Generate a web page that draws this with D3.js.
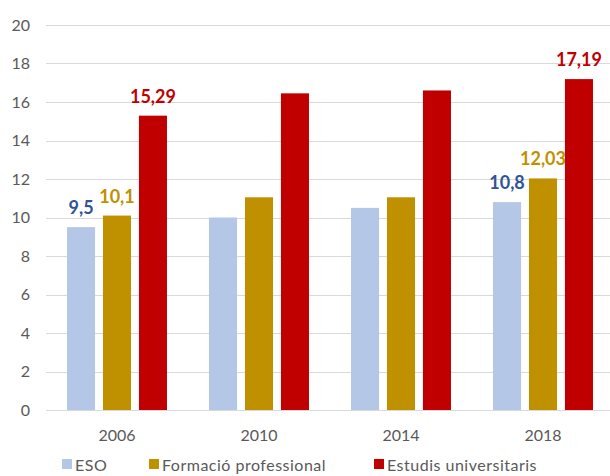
<!DOCTYPE html>
<html>
<head>
<meta charset="utf-8">
<script src="https://cdn.jsdelivr.net/npm/d3@7"></script>
<style>
  body { margin: 0; background: #fff; }
  text { font-family: Lato, "Open Sans", sans-serif; }
</style>
</head>
<body>
<svg width="610" height="476"></svg>
<script>
var years = ['2006', '2010', '2014', '2018'];
var series = ['ESO', 'Formació professional', 'Estudis universitaris'];
var eso = [9.5, 10.0, 10.5, 10.8];
var fp = [10.1, 11.05, 11.05, 12.03];
var univ = [15.29, 16.45, 16.6, 17.19];
var yTicks = [0, 2, 4, 6, 8, 10, 12, 14, 16, 18, 20];
// which bars carry a value label
var labelled = {
  'ESO': ['9,5', null, null, '10,8'],
  'Formació professional': ['10,1', null, null, '12,03'],
  'Estudis universitaris': ['15,29', null, null, '17,19']
};

var barColors = ['#B4C7E7', '#BF9000', '#C00000'];
var labelColors = ['#2F5597', '#C09000', '#C00000'];

var svg = d3.select('svg');
var values = [eso, fp, univ];

var x = d3.scaleBand()
  .domain(years)
  .range([46, 614])
  .paddingInner(0.296)
  .paddingOuter(0.148);

var x1 = d3.scaleBand()
  .domain(series)
  .range([0, x.bandwidth()])
  .paddingInner(0.22);

var y = d3.scaleLinear()
  .domain([0, 20])
  .range([410, 25]);

// gridlines
svg.append('g')
  .selectAll('line')
  .data(yTicks)
  .enter()
  .append('line')
  .attr('x1', 46)
  .attr('x2', 610)
  .attr('y1', function(d) { return Math.round(y(d)) + 0.5; })
  .attr('y2', function(d) { return Math.round(y(d)) + 0.5; })
  .attr('stroke', '#D9D9D9')
  .attr('stroke-width', 1);

// y tick labels
svg.append('g')
  .selectAll('text')
  .data(yTicks)
  .enter()
  .append('text')
  .attr('x', 30)
  .attr('y', function(d) { return y(d); })
  .attr('dy', '0.35em')
  .attr('text-anchor', 'end')
  .attr('fill', '#595959')
  .style('font-size', '16px')
  .text(function(d) { return d; });

// bars + value labels
series.forEach(function(s, i) {
  var rows = values[i].map(function(v, j) {
    return { year: years[j], value: v, label: labelled[s][j] };
  });
  var g = svg.append('g');

  g.selectAll('rect')
    .data(rows)
    .enter()
    .append('rect')
    .attr('x', function(d) { return x(d.year) + x1(s); })
    .attr('y', function(d) { return y(d.value); })
    .attr('width', x1.bandwidth())
    .attr('height', function(d) { return y(0) - y(d.value); })
    .attr('fill', barColors[i]);

  g.selectAll('text')
    .data(rows.filter(function(d) { return d.label !== null; }))
    .enter()
    .append('text')
    .attr('x', function(d) { return x(d.year) + x1(s) + x1.bandwidth() / 2; })
    .attr('y', function(d) { return y(d.value) - 13; })
    .attr('text-anchor', 'middle')
    .attr('fill', labelColors[i])
    .style('font-size', '18px')
    .style('font-weight', 'bold')
    .text(function(d) { return d.label; });
});

// x labels
svg.append('g')
  .selectAll('text')
  .data(years)
  .enter()
  .append('text')
  .attr('x', function(d) { return x(d) + x.bandwidth() / 2; })
  .attr('y', 441)
  .attr('text-anchor', 'middle')
  .attr('fill', '#595959')
  .style('font-size', '16px')
  .text(function(d) { return d; });

// legend
var legendX = [62, 149, 374];
var legend = svg.append('g')
  .selectAll('g')
  .data(series)
  .enter()
  .append('g')
  .attr('transform', function(d, i) { return 'translate(' + legendX[i] + ',0)'; });

legend.append('rect')
  .attr('x', 0)
  .attr('y', 459)
  .attr('width', 10)
  .attr('height', 10)
  .attr('fill', function(d, i) { return barColors[i]; });

legend.append('text')
  .attr('x', 13)
  .attr('y', 471)
  .attr('fill', '#595959')
  .style('font-size', '16px')
  .style('letter-spacing', '0.5px')
  .text(function(d) { return d; });
</script>
</body>
</html>
